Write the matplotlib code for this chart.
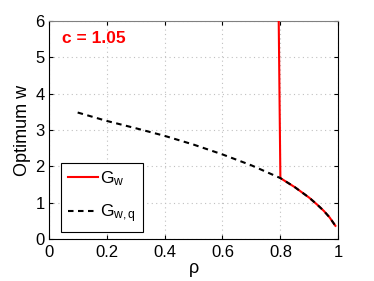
import matplotlib
matplotlib.use("Agg")
import matplotlib.pyplot as plt

plt.rcParams['font.family'] = ['Liberation Sans', 'DejaVu Sans']
plt.rcParams['mathtext.fontset'] = 'custom'
plt.rcParams['mathtext.rm'] = 'Liberation Sans'
plt.rcParams['mathtext.it'] = 'Liberation Sans'

rho_q = [0.1, 0.2, 0.3, 0.4, 0.5, 0.6, 0.7, 0.8, 0.85, 0.9, 0.93, 0.95, 0.97, 0.99]
w_q = [3.48, 3.25, 3.05, 2.84, 2.6, 2.33, 2.03, 1.68, 1.43, 1.14, 0.93, 0.78, 0.6, 0.37]

rho_w = [0.794, 0.8, 0.85, 0.9, 0.93, 0.95, 0.97, 0.99]
w_w = [6.2, 1.68, 1.43, 1.14, 0.93, 0.78, 0.6, 0.37]

xticks = [0, 0.2, 0.4, 0.6, 0.8, 1]
xticklabels = ['0', '0.2', '0.4', '0.6', '0.8', '1']
yticks = [0, 1, 2, 3, 4, 5, 6]

fig = plt.figure(figsize=(3.74, 2.81), dpi=100)
ax = fig.add_axes([48.7/374, 1 - 239.3/281, (338.3-48.7)/374, (239.3-20.7)/281])

ax.plot(rho_w, w_w, color='red', lw=1.5, label=r'$\mathregular{G_w}$', zorder=3)
ax.plot(rho_q, w_q, color='black', lw=1.5, ls=(0, (2.65, 2.15)), label=r'$\mathregular{G_{w,q}}$', zorder=4)

ax.set_xlim(0, 1)
ax.set_ylim(0, 6)
ax.set_xticks(xticks)
ax.set_xticklabels(xticklabels)
ax.set_yticks(yticks)
ax.grid(True, ls=(0, (1, 3)), color='#c0c0c0', lw=0.8)
ax.tick_params(direction='in', top=True, right=True, labelsize=12, length=3)
ax.tick_params(axis='x', pad=4)
ax.tick_params(axis='y', pad=3)
for s in ax.spines.values():
    s.set_linewidth(0.8)
ax.spines['top'].set_color('#808080')

ax.set_xlabel('ρ', fontsize=13, labelpad=0)
ax.set_ylabel('Optimum w', fontsize=13, labelpad=3)

ax.text(0.046, 0.9, 'c = 1.05', transform=ax.transAxes, color='red',
        fontsize=12.5, fontweight='bold')

leg = ax.legend(loc='lower left', bbox_to_anchor=(0.043, 0.035), fontsize=12.5,
                frameon=True, fancybox=False, edgecolor='black', framealpha=1,
                handlelength=1.7, handletextpad=0.15, borderpad=0.4, labelspacing=0.8,
                borderaxespad=0)
leg.get_frame().set_linewidth(0.8)

fig.savefig('out.png', dpi=100)
